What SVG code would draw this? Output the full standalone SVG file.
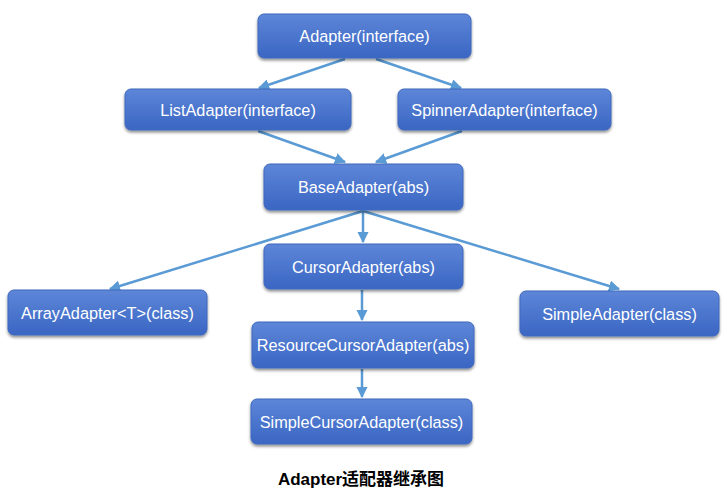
<svg xmlns="http://www.w3.org/2000/svg" width="727" height="500" viewBox="0 0 727 500">
<defs>
<linearGradient id="g" x1="0" y1="0" x2="0" y2="1">
<stop offset="0" stop-color="#5d86d8"/>
<stop offset="1" stop-color="#3a66c3"/>
</linearGradient>
<filter id="sh" x="-10%" y="-20%" width="120%" height="150%">
<feGaussianBlur in="SourceAlpha" stdDeviation="1.5"/>
<feOffset dx="0" dy="2" result="b"/>
<feComponentTransfer><feFuncA type="linear" slope="0.45"/></feComponentTransfer>
<feMerge><feMergeNode/><feMergeNode in="SourceGraphic"/></feMerge>
</filter>
<marker id="ah" viewBox="0 0 10 10" refX="9" refY="5" markerWidth="4.5" markerHeight="4.5" orient="auto" markerUnits="strokeWidth">
<path d="M0,0 L10,5 L0,10 z" fill="#5b9bd5"/>
</marker>
<style>
.box{fill:url(#g);stroke:#3f68bd;stroke-width:1;filter:url(#sh)}
.t{font-family:"Liberation Sans",Arial,sans-serif;font-size:16.3px;fill:#fff;text-anchor:middle;dominant-baseline:central}
.c{stroke:#5b9bd5;stroke-width:2.5;fill:none;marker-end:url(#ah)}
.cap{font-family:"Liberation Sans","Noto Sans CJK SC",sans-serif;font-size:17px;font-weight:bold;fill:#000;text-anchor:middle}
</style>
</defs>
<rect width="727" height="500" fill="#fff"/>
<g id="connectors">
<line class="c" x1="345" y1="59" x2="259" y2="88"/>
<line class="c" x1="376" y1="59" x2="461" y2="88"/>
<line class="c" x1="258" y1="131" x2="345" y2="162"/>
<line class="c" x1="462" y1="131" x2="376" y2="162"/>
<line class="c" x1="363" y1="211" x2="363" y2="242"/>
<line class="c" x1="363" y1="211" x2="110" y2="289"/>
<line class="c" x1="363" y1="211" x2="619" y2="289"/>
<line class="c" x1="362" y1="290" x2="362" y2="320"/>
<line class="c" x1="362" y1="369" x2="362" y2="397"/>
</g>
<g id="adapter"><rect class="box" x="258" y="14" width="213" height="44" rx="6"/><text class="t" x="364.5" y="36">Adapter(interface)</text></g>
<g id="listadapter"><rect class="box" x="125" y="89" width="226" height="41" rx="6"/><text class="t" x="238" y="109.5">ListAdapter(interface)</text></g>
<g id="spinneradapter"><rect class="box" x="398" y="89" width="213" height="41" rx="6"/><text class="t" x="504.5" y="109.5">SpinnerAdapter(interface)</text></g>
<g id="baseadapter"><rect class="box" x="264" y="164" width="199" height="46" rx="6"/><text class="t" x="363.5" y="187">BaseAdapter(abs)</text></g>
<g id="cursoradapter"><rect class="box" x="264" y="244" width="199" height="45" rx="6"/><text class="t" x="363.5" y="266.5">CursorAdapter(abs)</text></g>
<g id="arrayadapter"><rect class="box" x="8" y="290" width="199" height="45" rx="6"/><text class="t" x="107.5" y="312.5">ArrayAdapter&lt;T&gt;(class)</text></g>
<g id="simpleadapter"><rect class="box" x="520" y="291" width="199" height="45" rx="6"/><text class="t" x="619.5" y="313.5">SimpleAdapter(class)</text></g>
<g id="resourcecursoradapter"><rect class="box" x="252" y="322" width="222" height="46" rx="6"/><text class="t" x="363" y="345">ResourceCursorAdapter(abs)</text></g>
<g id="simplecursoradapter"><rect class="box" x="251" y="399" width="221" height="45" rx="6"/><text class="t" x="361.5" y="421.5">SimpleCursorAdapter(class)</text></g>
<text class="cap" x="361" y="485">Adapter适配器继承图</text>
</svg>
